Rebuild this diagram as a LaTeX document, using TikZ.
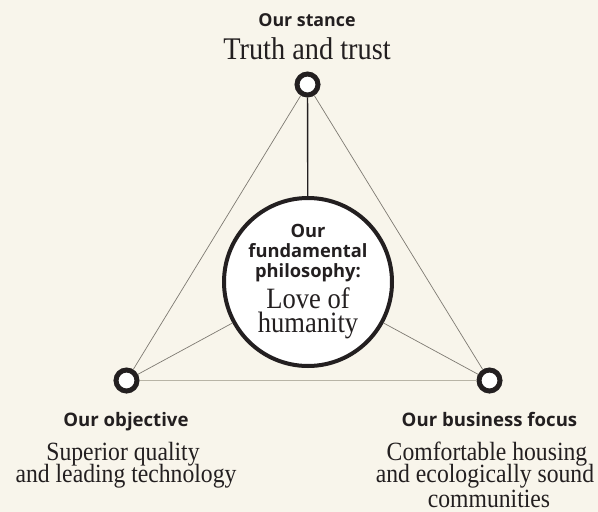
\documentclass[tikz,border=0pt]{standalone}
\usepackage{fontspec}
\newfontfamily\hdfont{Open Sans}
\newfontfamily\srfont[FakeStretch=0.9]{Liberation Serif}
\definecolor{bg}{HTML}{F8F5EB}
\definecolor{ink}{HTML}{231F20}
\definecolor{thinc}{HTML}{7E7A72}
\definecolor{basec}{HTML}{B8B4A6}
\tikzset{
  smallc/.style={circle, draw=ink, fill=white, line width=5pt, inner sep=0pt, minimum size=21pt},
  bigc/.style={circle, draw=ink, fill=white, line width=4pt, inner sep=0pt, minimum size=168pt},
  thinline/.style={draw=thinc, line width=0.7pt},
  baseline/.style={draw=basec, line width=1.5pt},
  vline/.style={draw=ink, line width=1.4pt},
  txt/.style={anchor=base, inner sep=0pt, text=ink, text height=0.7em, text depth=0.12em},
  hdt/.style={txt, font=\hdfont\bfseries\fontsize{17.8}{20}\selectfont},
  hdc/.style={txt, font=\hdfont\bfseries\fontsize{18.3}{20}\selectfont},
  hdb/.style={txt, font=\hdfont\bfseries\fontsize{18.6}{21}\selectfont},
  srtop/.style={txt, font=\srfont\fontsize{31.5}{34}\selectfont},
  srmid/.style={txt, font=\srfont\fontsize{29.5}{32}\selectfont},
  srbot/.style={txt, font=\srfont\fontsize{26.3}{28}\selectfont},
}
\begin{document}
\begin{tikzpicture}[x=1pt,y=-1pt]
\fill[bg] (0,0) rectangle (598,512);
\useasboundingbox (0,0) rectangle (598,512);
% circles
\node[smallc] (t) at (307.5,84.5) {};
\node[smallc] (l) at (126.5,380.5) {};
\node[smallc] (r) at (489.5,380.5) {};
\node[bigc] (c) at (308,282) {};
% connectors
\draw[thinline] (t) -- (l);
\draw[thinline] (t) -- (r);
\draw[thinline] (l) -- (c);
\draw[thinline] (r) -- (c);
\draw[baseline] (l) -- (r);
\draw[vline] (t) -- (c);
% top texts
\node[hdt] (st1) at (307,26) {Our stance};
\node[srtop] (st2) at (307,59) {Truth and trust};
% centre texts
\node[hdc] (c1) at (308,237) {Our};
\node[hdc] (c2) at (308,257) {fundamental};
\node[hdc] (c3) at (308,277) {philosophy:};
\node[srmid] (c4) at (308,308) {Love of};
\node[srmid] (c5) at (308,332) {humanity};
% left texts
\node[hdb] (o1) at (126,426) {Our objective};
\node[srbot] (o2) at (123,460) {Superior quality};
\node[srbot] (o3) at (126,482) {and leading technology};
% right texts
\node[hdb] (b1) at (489.5,426) {Our business focus};
\node[srbot] (b2) at (487,460) {Comfortable housing};
\node[srbot] (b3) at (485,482) {and ecologically sound};
\node[srbot] (b4) at (489,507) {communities};
\end{tikzpicture}
\end{document}
